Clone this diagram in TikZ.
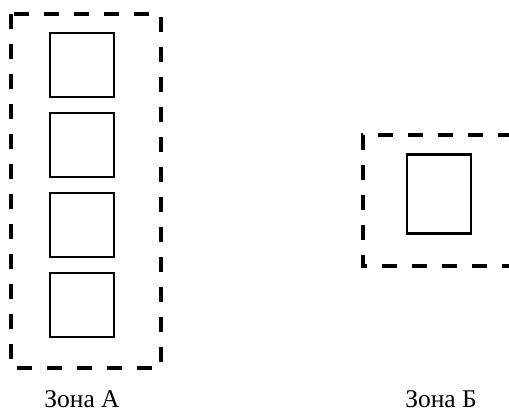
\documentclass[tikz,border=0pt]{standalone}
\usepackage{fontspec}
\setmainfont{Liberation Serif}
\begin{document}
\begin{tikzpicture}[x=1pt,y=-1pt,
  zone/.style={line width=3.6pt,dash pattern=on 15pt off 15pt},
  unit/.style={draw,line width=2.6pt,inner sep=0pt,minimum width=64pt,minimum height=64pt},
  lbl/.style={font=\fontsize{25.5}{27}\selectfont,anchor=base,inner sep=0pt}]
\useasboundingbox (0,0) rectangle (509,414);
\clip (0,0) rectangle (509,414);
\draw[zone] (11,14) rectangle (161,368);
\node[unit] (a1) at (82,65) {};
\node[unit] (a2) at (82,145) {};
\node[unit] (a3) at (82,225) {};
\node[unit] (a4) at (82,305) {};
\draw[zone] (543,135) -- (363,135) -- (363,266) -- (543,266);
\node[unit,minimum width=64pt,minimum height=79pt] (b1) at (439,194) {};
\node[lbl] (la) at (82,407) {Зона А};
\node[lbl] (lb) at (441,407) {Зона Б};
\end{tikzpicture}
\end{document}
